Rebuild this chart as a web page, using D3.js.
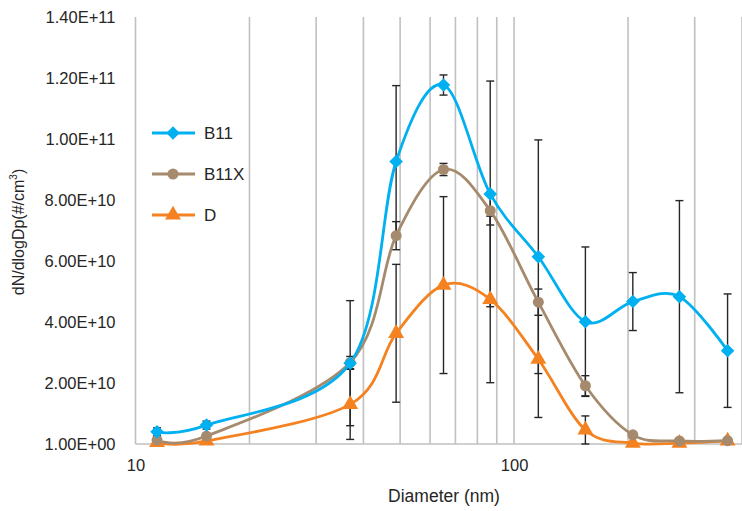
<!DOCTYPE html>
<html>
<head>
<meta charset="utf-8">
<script src="https://cdn.jsdelivr.net/npm/d3@7/dist/d3.min.js"></script>
<style>
  body { margin: 0; background: #fff; }
  svg { display: block; font-family: "Liberation Sans", Arial, sans-serif; }
</style>
</head>
<body>
<script>
// particle size (nm) for each measured bin
var diameters = [11.4, 15.4, 36.9, 48.8, 65.1, 86.5, 115.9, 154.3, 205.9, 273.4, 366.4];

var b11    = [4.0e9, 6.2e9, 2.65e10, 9.26e10, 1.177e11, 8.2e10, 6.14e10, 4.01e10, 4.67e10, 4.83e10, 3.06e10];
var b11Err = [1.3e9, 1.3e9, 2.05e10, 2.49e10, 3.3e9, 3.7e10, 3.83e10, 2.45e10, 9.5e9, 3.15e10, 1.86e10];

var b11x    = [1.3e9, 2.6e9, 2.67e10, 6.83e10, 9.0e10, 7.65e10, 4.65e10, 1.91e10, 3.0e9, 1.0e9, 1.1e9];
var b11xErr = [3e8, 3e8, 2.0e9, 4.6e9, 2.0e9, 4.7e9, 4.3e9, 3.3e9, 6e8, 3e8, 3e8];

var dVals = [5e8, 1.0e9, 1.3e10, 3.63e10, 5.21e10, 4.74e10, 2.78e10, 4.6e9, 3e8, 3e8, 1.0e9];
var dErr  = [2e8, 2e8, 1.15e10, 2.26e10, 2.9e10, 2.73e10, 1.91e10, 4.6e9, 2e8, 2e8, 2e8];

var yTicks = [0, 2e10, 4e10, 6e10, 8e10, 1e11, 1.2e11, 1.4e11];
var yTickLabels = ["1.00E+00", "2.00E+10", "4.00E+10", "6.00E+10", "8.00E+10", "1.00E+11", "1.20E+11", "1.40E+11"];
var xTicks = [10, 100];
var xTickLabels = ["10", "100"];
var xGrid = [20, 30, 40, 50, 60, 70, 80, 90, 100, 200, 300, 400];

var seriesNames = ["B11", "B11X", "D"];

chart();

function chart ()
{
    var width = 742, height = 511;
    var left = 135.5, right = 742, top = 17, bottom = 444;

    var svg = d3.select("body").append("svg")
            .attr("width", width)
            .attr("height", height);

    var xScale = d3.scaleLog().domain([10, 400]).range([left, right]);
    var yScale = d3.scaleLinear().domain([0, 1.4e11]).range([bottom, top]);

    // vertical gridlines
    svg.append("g").selectAll("line")
            .data(xGrid)
            .enter().append("line")
            .attr("x1", function (d) { return xScale(d); })
            .attr("x2", function (d) { return xScale(d); })
            .attr("y1", top)
            .attr("y2", bottom)
            .attr("stroke", "#c0c0c0")
            .attr("stroke-width", 1.6);

    // axis lines
    svg.append("line")
            .attr("x1", left).attr("x2", left)
            .attr("y1", top).attr("y2", bottom)
            .attr("stroke", "#c0c0c0").attr("stroke-width", 1.6);
    svg.append("line")
            .attr("x1", left).attr("x2", right)
            .attr("y1", bottom).attr("y2", bottom)
            .attr("stroke", "#c0c0c0").attr("stroke-width", 1.6);

    var yAxis = d3.axisLeft(yScale)
            .tickValues(yTicks)
            .tickSize(0)
            .tickPadding(20)
            .tickFormat(function (d, i) { return yTickLabels[i]; });
    var gy = svg.append("g").attr("transform", "translate(" + left + ",0)").call(yAxis);
    gy.select(".domain").remove();
    gy.selectAll("text")
            .attr("font-size", "16.5px")
            .attr("fill", "#262626")
            .attr("font-family", "Liberation Sans, Arial, sans-serif");

    var xAxis = d3.axisBottom(xScale)
            .tickValues(xTicks)
            .tickSize(0)
            .tickPadding(15)
            .tickFormat(function (d, i) { return xTickLabels[i]; });
    var gx = svg.append("g").attr("transform", "translate(0," + bottom + ")").call(xAxis);
    gx.select(".domain").remove();
    gx.selectAll("text")
            .attr("font-size", "16.5px")
            .attr("fill", "#262626")
            .attr("font-family", "Liberation Sans, Arial, sans-serif");

    // axis titles
    svg.append("text")
            .attr("x", 444)
            .attr("y", 502)
            .attr("text-anchor", "middle")
            .attr("font-size", "17.5px")
            .attr("fill", "#262626")
            .text("Diameter (nm)");

    var yt = svg.append("text")
            .attr("transform", "translate(24,232) rotate(-90)")
            .attr("text-anchor", "middle")
            .attr("font-size", "16px")
            .attr("fill", "#262626");
    yt.append("tspan").text("dN/dlogDp(#/cm");
    yt.append("tspan").attr("font-size", "10px").attr("dy", -7).text("3");
    yt.append("tspan").attr("dy", 7).text(")");

    var series = [
        {name: "D",    values: dVals, err: dErr,    color: "#f58220", symbol: d3.symbolTriangle, size: 110, rot: 0},
        {name: "B11X", values: b11x,  err: b11xErr, color: "#a68a6d", symbol: d3.symbolCircle,   size: 95,  rot: 0},
        {name: "B11",  values: b11,   err: b11Err,  color: "#00b0f0", symbol: d3.symbolSquare,   size: 92,  rot: 45}
    ];

    // error bars
    series.forEach(function (s)
    {
        var g = svg.append("g").attr("stroke", "#262626").attr("stroke-width", 1.4);
        s.values.forEach(function (v, i)
        {
            var x = xScale(diameters[i]);
            var y1 = yScale(v + s.err[i]);
            var y0 = Math.min(yScale(v - s.err[i]), bottom);
            g.append("line").attr("x1", x).attr("x2", x).attr("y1", y1).attr("y2", y0);
            g.append("line").attr("x1", x - 4).attr("x2", x + 4).attr("y1", y1).attr("y2", y1);
            if (yScale(v - s.err[i]) <= bottom)
                g.append("line").attr("x1", x - 4).attr("x2", x + 4).attr("y1", y0).attr("y2", y0);
        });
    });

    // smoothed lines (Excel style)
    var line = d3.line()
            .x(function (d) { return xScale(d.x); })
            .y(function (d) { return yScale(d.y); })
            .curve(d3.curveCatmullRom.alpha(0));

    series.forEach(function (s)
    {
        var pts = s.values.map(function (v, i) { return {x: diameters[i], y: v}; });
        svg.append("path")
                .attr("fill", "none")
                .attr("stroke", s.color)
                .attr("stroke-width", 2.8)
                .attr("d", line(pts));
    });

    series.forEach(function (s)
    {
        var sym = d3.symbol().type(s.symbol).size(s.size);
        svg.append("g").selectAll("path")
                .data(s.values)
                .enter().append("path")
                .attr("transform", function (d, i) {
                    return "translate(" + xScale(diameters[i]) + "," + yScale(d) + ") rotate(" + s.rot + ")";
                })
                .attr("fill", s.color)
                .attr("d", sym);
    });

    // legend
    var legendY = [133, 174, 215];
    seriesNames.forEach(function (name, i)
    {
        var s = series.filter(function (t) { return t.name === name; })[0];
        var g = svg.append("g");
        g.append("line")
                .attr("x1", 152).attr("x2", 195)
                .attr("y1", legendY[i]).attr("y2", legendY[i])
                .attr("stroke", s.color).attr("stroke-width", 2.8);
        g.append("path")
                .attr("transform", "translate(173," + legendY[i] + ") rotate(" + s.rot + ")")
                .attr("fill", s.color)
                .attr("d", d3.symbol().type(s.symbol).size(s.size)());
        g.append("text")
                .attr("x", 204)
                .attr("y", legendY[i] + 6)
                .attr("font-size", "17px")
                .attr("fill", "#262626")
                .text(name);
    });
}
</script>
</body>
</html>
